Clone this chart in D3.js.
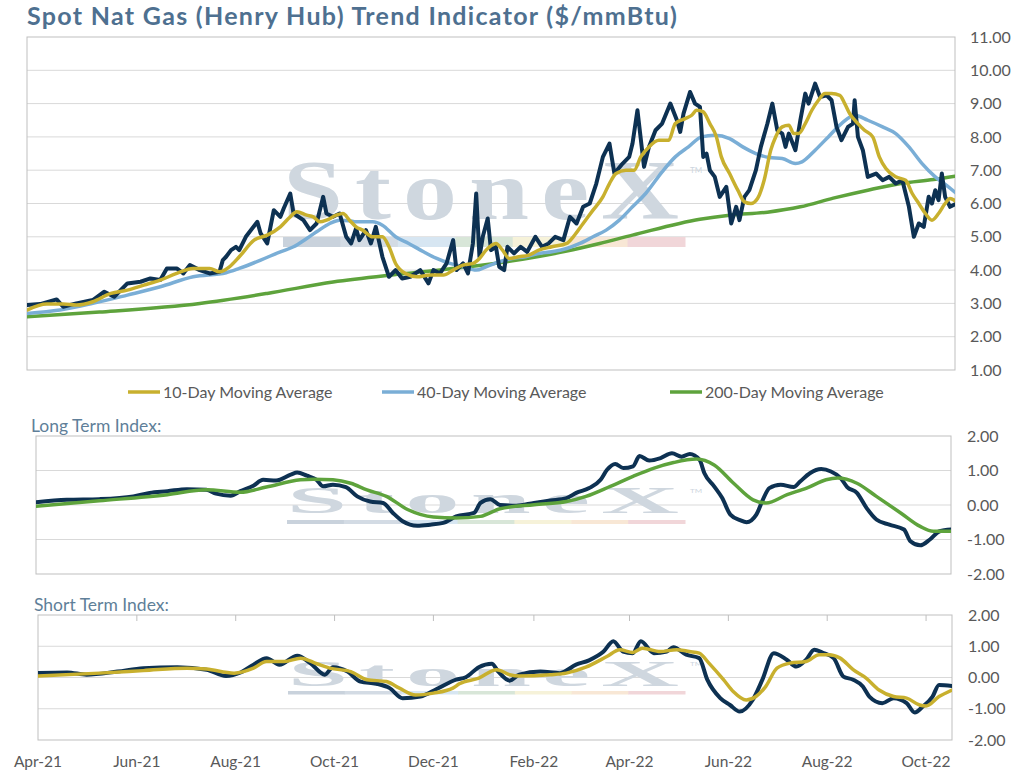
<!DOCTYPE html>
<html>
<head>
<meta charset="utf-8">
<script src="https://cdn.jsdelivr.net/npm/d3@7"></script>
<style>
  body { margin: 0; background: #fff; }
  svg { display: block; font-family: Lato, "Open Sans", sans-serif; }
</style>
</head>
<body>
<div id="chart"></div>
<script>
// Spot Nat Gas (Henry Hub) trend indicator - three stacked panels

const TITLE = 'Spot Nat Gas (Henry Hub) Trend Indicator ($/mmBtu)';
const LEGEND = ['10-Day Moving Average', '40-Day Moving Average', '200-Day Moving Average'];
const MONTH_TICKS = ['2021-04-01','2021-06-01','2021-08-01','2021-10-01','2021-12-01',
    '2022-02-01','2022-04-01','2022-06-01','2022-08-01','2022-10-01'];
const PRICE_TICKS = [1,2,3,4,5,6,7,8,9,10,11];
const INDEX_TICKS = [-2,-1,0,1,2];

// spot price, $/mmBtu
const spot = [
 ['2021-04-01',2.95],['2021-04-09',2.98],['2021-04-19',3.12],['2021-04-23',2.9],['2021-05-01',3.0],
 ['2021-05-11',3.1],['2021-05-18',3.35],['2021-05-24',3.2],['2021-06-01',3.6],['2021-06-09',3.65],
 ['2021-06-15',3.75],['2021-06-21',3.7],['2021-06-25',4.05],['2021-07-01',4.05],['2021-07-05',3.9],
 ['2021-07-09',4.15],['2021-07-15',4.0],['2021-07-21',3.9],['2021-07-27',3.95],['2021-07-29',4.3],
 ['2021-07-31',4.4],['2021-08-03',4.6],['2021-08-06',4.7],['2021-08-08',4.6],['2021-08-12',5.0],
 ['2021-08-19',5.45],['2021-08-21',5.1],['2021-08-25',4.8],['2021-08-29',5.8],['2021-09-02',5.6],
 ['2021-09-04',5.85],['2021-09-08',6.3],['2021-09-10',5.7],['2021-09-16',5.5],['2021-09-20',5.2],
 ['2021-09-24',5.4],['2021-09-28',6.2],['2021-09-30',5.7],['2021-10-04',5.6],['2021-10-08',5.7],
 ['2021-10-12',5.0],['2021-10-15',4.8],['2021-10-18',5.25],['2021-10-20',4.9],['2021-10-24',5.2],
 ['2021-10-27',4.8],['2021-10-30',5.3],['2021-11-03',4.4],['2021-11-07',3.8],['2021-11-11',4.0],
 ['2021-11-15',3.75],['2021-11-20',3.8],['2021-11-26',4.0],['2021-12-01',3.6],['2021-12-04',4.0],
 ['2021-12-08',3.9],['2021-12-12',4.2],['2021-12-16',4.9],['2021-12-18',4.0],['2021-12-22',4.2],
 ['2021-12-25',3.9],['2021-12-28',4.8],['2021-12-30',6.3],['2022-01-01',4.4],['2022-01-03',5.0],
 ['2022-01-06',5.55],['2022-01-08',4.6],['2022-01-11',4.7],['2022-01-13',4.1],['2022-01-16',4.0],
 ['2022-01-18',4.7],['2022-01-22',4.5],['2022-01-26',4.7],['2022-01-30',4.55],['2022-02-04',5.0],
 ['2022-02-08',4.7],['2022-02-12',4.8],['2022-02-16',5.0],['2022-02-21',4.9],['2022-02-25',5.6],
 ['2022-03-01',5.4],['2022-03-05',5.9],['2022-03-09',6.0],['2022-03-13',6.6],['2022-03-17',7.4],
 ['2022-03-21',7.8],['2022-03-24',6.9],['2022-03-29',7.2],['2022-04-02',7.4],['2022-04-04',7.8],
 ['2022-04-07',8.8],['2022-04-11',7.1],['2022-04-14',7.7],['2022-04-18',8.2],['2022-04-22',8.4],
 ['2022-04-27',9.0],['2022-05-01',8.5],['2022-05-03',8.15],['2022-05-05',8.7],['2022-05-09',9.35],
 ['2022-05-12',9.0],['2022-05-15',8.9],['2022-05-17',7.4],['2022-05-19',7.5],['2022-05-21',7.0],
 ['2022-05-24',6.8],['2022-05-27',6.2],['2022-05-31',6.5],['2022-06-03',5.4],['2022-06-06',5.9],
 ['2022-06-08',5.5],['2022-06-11',6.2],['2022-06-14',6.4],['2022-06-18',7.0],['2022-06-21',7.7],
 ['2022-06-25',8.4],['2022-06-28',9.0],['2022-07-01',8.2],['2022-07-04',8.1],['2022-07-06',7.7],
 ['2022-07-08',8.1],['2022-07-12',7.6],['2022-07-15',8.5],['2022-07-18',9.3],['2022-07-20',9.0],
 ['2022-07-24',9.6],['2022-07-27',9.2],['2022-07-31',9.25],['2022-08-03',9.1],['2022-08-06',8.3],
 ['2022-08-09',7.9],['2022-08-13',8.3],['2022-08-16',8.4],['2022-08-17',9.1],['2022-08-19',8.0],
 ['2022-08-22',7.6],['2022-08-25',6.8],['2022-08-30',6.9],['2022-09-03',6.7],['2022-09-07',6.8],
 ['2022-09-11',6.6],['2022-09-15',6.7],['2022-09-19',5.9],['2022-09-22',5.0],['2022-09-25',5.4],
 ['2022-09-28',5.3],['2022-10-01',6.2],['2022-10-03',6.0],['2022-10-05',6.4],['2022-10-07',6.1],
 ['2022-10-09',6.9],['2022-10-11',6.2],['2022-10-14',5.9],['2022-10-18',6.0]
];

const ma10 = [
 ['2021-04-01',2.8],['2021-04-13',2.98],['2021-04-23',2.98],['2021-05-01',2.95],['2021-05-11',3.05],
 ['2021-05-22',3.3],['2021-06-01',3.4],['2021-06-11',3.55],['2021-06-21',3.7],['2021-07-01',3.9],
 ['2021-07-11',4.05],['2021-07-21',4.05],['2021-07-27',3.95],['2021-08-02',4.1],['2021-08-08',4.4],
 ['2021-08-17',4.9],['2021-08-25',5.05],['2021-09-02',5.3],['2021-09-08',5.6],['2021-09-12',5.75],
 ['2021-09-18',5.65],['2021-09-22',5.6],['2021-09-26',5.45],['2021-09-30',5.5],['2021-10-06',5.65],
 ['2021-10-10',5.7],['2021-10-14',5.5],['2021-10-18',5.3],['2021-10-22',5.2],['2021-10-28',5.0],
 ['2021-11-03',5.0],['2021-11-07',4.7],['2021-11-11',4.2],['2021-11-17',3.9],['2021-11-24',3.8],
 ['2021-12-02',3.85],['2021-12-10',3.85],['2021-12-16',4.0],['2021-12-22',4.15],['2021-12-28',4.2],
 ['2022-01-01',4.35],['2022-01-05',4.6],['2022-01-11',4.8],['2022-01-15',4.6],['2022-01-19',4.35],
 ['2022-01-25',4.4],['2022-01-31',4.45],['2022-02-06',4.6],['2022-02-14',4.7],['2022-02-23',4.8],
 ['2022-02-27',5.0],['2022-03-05',5.4],['2022-03-11',5.8],['2022-03-17',6.2],['2022-03-21',6.6],
 ['2022-03-25',6.9],['2022-03-31',7.0],['2022-04-05',7.0],['2022-04-09',7.4],['2022-04-14',7.7],
 ['2022-04-20',7.9],['2022-04-26',7.9],['2022-04-30',8.4],['2022-05-06',8.55],['2022-05-10',8.65],
 ['2022-05-13',8.8],['2022-05-17',8.75],['2022-05-21',8.4],['2022-05-25',8.0],['2022-05-28',7.4],
 ['2022-06-02',6.9],['2022-06-07',6.4],['2022-06-11',6.05],['2022-06-15',6.0],['2022-06-19',6.15],
 ['2022-06-23',6.7],['2022-06-27',7.6],['2022-06-30',8.0],['2022-07-04',8.3],['2022-07-08',8.35],
 ['2022-07-11',8.1],['2022-07-14',8.1],['2022-07-18',8.4],['2022-07-22',8.8],['2022-07-26',9.1],
 ['2022-07-30',9.3],['2022-08-03',9.3],['2022-08-08',9.25],['2022-08-11',9.0],['2022-08-14',8.7],
 ['2022-08-19',8.4],['2022-08-23',8.2],['2022-08-28',8.0],['2022-09-01',7.4],['2022-09-05',7.05],
 ['2022-09-11',6.8],['2022-09-17',6.7],['2022-09-21',6.3],['2022-09-25',6.0],['2022-09-29',5.7],
 ['2022-10-03',5.5],['2022-10-07',5.7],['2022-10-11',6.0],['2022-10-14',6.15],['2022-10-18',6.05]
];

const ma40 = [
 ['2021-04-01',2.7],['2021-04-21',2.8],['2021-05-11',3.0],['2021-06-01',3.25],['2021-06-21',3.5],
 ['2021-07-11',3.8],['2021-07-31',3.92],['2021-08-08',4.05],['2021-08-21',4.3],['2021-09-02',4.55],
 ['2021-09-10',4.7],['2021-09-18',4.95],['2021-09-24',5.15],['2021-10-02',5.4],['2021-10-08',5.5],
 ['2021-10-14',5.48],['2021-10-18',5.45],['2021-10-28',5.45],['2021-11-03',5.35],['2021-11-11',5.0],
 ['2021-11-19',4.8],['2021-11-28',4.55],['2021-12-06',4.35],['2021-12-14',4.2],['2021-12-22',4.1],
 ['2021-12-30',4.0],['2022-01-05',4.1],['2022-01-13',4.25],['2022-01-21',4.35],['2022-01-29',4.4],
 ['2022-02-06',4.5],['2022-02-14',4.55],['2022-02-23',4.65],['2022-03-03',4.8],['2022-03-11',5.0],
 ['2022-03-19',5.2],['2022-03-27',5.5],['2022-04-04',5.9],['2022-04-12',6.3],['2022-04-22',6.95],
 ['2022-04-30',7.4],['2022-05-08',7.7],['2022-05-16',8.0],['2022-05-24',8.05],['2022-06-02',7.95],
 ['2022-06-10',7.7],['2022-06-18',7.5],['2022-06-26',7.38],['2022-07-04',7.35],['2022-07-12',7.2],
 ['2022-07-16',7.25],['2022-07-24',7.6],['2022-08-01',8.0],['2022-08-09',8.4],['2022-08-17',8.65],
 ['2022-08-25',8.5],['2022-09-03',8.3],['2022-09-11',8.1],['2022-09-19',7.7],['2022-09-27',7.2],
 ['2022-10-05',6.8],['2022-10-13',6.5],['2022-10-18',6.3]
];

const ma200 = [
 ['2021-04-01',2.6],['2021-05-15',2.74],['2021-07-15',3.0],['2021-08-25',3.3],['2021-10-04',3.64],
 ['2021-11-14',3.88],['2021-12-24',4.09],['2022-01-20',4.27],['2022-02-23',4.57],['2022-03-15',4.8],
 ['2022-04-04',5.05],['2022-05-15',5.53],['2022-06-02',5.65],['2022-06-25',5.74],['2022-07-15',5.9],
 ['2022-08-04',6.16],['2022-08-25',6.4],['2022-09-14',6.6],['2022-10-04',6.72],['2022-10-17',6.82]
];

// long term index
const longFast = [
 ['2021-04-01',0.08],['2021-04-20',0.15],['2021-05-10',0.17],['2021-05-31',0.25],['2021-06-10',0.35],
 ['2021-06-21',0.4],['2021-07-03',0.46],['2021-07-15',0.44],['2021-07-21',0.33],['2021-07-30',0.27],
 ['2021-08-05',0.4],['2021-08-13',0.56],['2021-08-19',0.73],['2021-08-27',0.71],['2021-09-05',0.88],
 ['2021-09-09',0.94],['2021-09-15',0.85],['2021-09-21',0.73],['2021-09-25',0.54],['2021-10-01',0.59],
 ['2021-10-09',0.52],['2021-10-16',0.25],['2021-10-24',0.1],['2021-11-01',0.06],['2021-11-07',-0.23],
 ['2021-11-13',-0.47],['2021-11-22',-0.6],['2021-11-30',-0.57],['2021-12-08',-0.52],['2021-12-16',-0.33],
 ['2021-12-27',-0.23],['2021-12-31',0.06],['2022-01-06',0.17],['2022-01-12',0.0],['2022-01-22',-0.02],
 ['2022-02-02',0.06],['2022-02-12',0.13],['2022-02-22',0.2],['2022-02-28',0.35],['2022-03-08',0.49],
 ['2022-03-15',0.73],['2022-03-19',1.02],['2022-03-24',1.19],['2022-03-29',1.07],['2022-04-04',1.12],
 ['2022-04-08',1.42],['2022-04-14',1.29],['2022-04-21',1.36],['2022-04-28',1.5],['2022-05-04',1.4],
 ['2022-05-09',1.48],['2022-05-15',1.31],['2022-05-18',0.92],['2022-05-24',0.54],['2022-05-29',0.2],
 ['2022-06-03',-0.28],['2022-06-09',-0.44],['2022-06-13',-0.5],['2022-06-19',-0.28],['2022-06-23',0.15],
 ['2022-06-27',0.49],['2022-07-04',0.59],['2022-07-12',0.52],['2022-07-16',0.68],['2022-07-22',0.92],
 ['2022-07-29',1.04],['2022-08-04',0.97],['2022-08-10',0.78],['2022-08-14',0.52],['2022-08-20',0.35],
 ['2022-08-26',-0.09],['2022-09-01',-0.42],['2022-09-09',-0.57],['2022-09-18',-0.71],['2022-09-22',-1.05],
 ['2022-09-28',-1.17],['2022-10-04',-1.0],['2022-10-10',-0.76],['2022-10-17',-0.71]
];

const longSlow = [
 ['2021-04-01',-0.04],['2021-05-10',0.12],['2021-06-21',0.3],['2021-07-15',0.44],['2021-08-05',0.37],
 ['2021-08-21',0.52],['2021-09-11',0.73],['2021-09-19',0.75],['2021-10-01',0.73],['2021-10-12',0.63],
 ['2021-10-22',0.44],['2021-11-03',0.25],['2021-11-16',-0.13],['2021-12-02',-0.35],['2021-12-16',-0.38],
 ['2021-12-31',-0.33],['2022-01-12',-0.11],['2022-02-02',0.01],['2022-02-22',0.1],['2022-03-06',0.25],
 ['2022-03-21',0.54],['2022-04-04',0.83],['2022-04-17',1.07],['2022-04-29',1.23],['2022-05-13',1.33],
 ['2022-05-24',1.16],['2022-06-05',0.63],['2022-06-17',0.15],['2022-06-25',0.06],['2022-07-08',0.3],
 ['2022-07-20',0.49],['2022-08-01',0.73],['2022-08-08',0.78],['2022-08-20',0.63],['2022-09-01',0.25],
 ['2022-09-16',-0.23],['2022-09-28',-0.62],['2022-10-06',-0.76],['2022-10-17',-0.76]
];

// short term index
const shortFast = [
 ['2021-04-01',0.14],['2021-04-19',0.16],['2021-05-01',0.09],['2021-05-20',0.19],['2021-06-05',0.3],
 ['2021-06-26',0.33],['2021-07-14',0.25],['2021-07-26',0.05],['2021-08-04',0.16],['2021-08-12',0.41],
 ['2021-08-20',0.62],['2021-08-28',0.41],['2021-09-08',0.7],['2021-09-16',0.46],['2021-09-25',0.09],
 ['2021-09-30',0.33],['2021-10-09',0.19],['2021-10-17',-0.13],['2021-10-27',-0.2],['2021-11-04',-0.34],
 ['2021-11-12',-0.66],['2021-11-23',-0.61],['2021-12-03',-0.37],['2021-12-15',-0.07],['2021-12-21',0.01],
 ['2021-12-29',0.33],['2022-01-06',0.44],['2022-01-10',0.19],['2022-01-17',-0.1],['2022-01-23',0.09],
 ['2022-02-05',0.19],['2022-02-17',0.14],['2022-02-27',0.41],['2022-03-07',0.55],['2022-03-16',0.83],
 ['2022-03-22',1.16],['2022-03-28',0.83],['2022-04-03',0.78],['2022-04-08',1.16],['2022-04-16',0.78],
 ['2022-04-24',0.83],['2022-04-28',0.97],['2022-05-06',0.73],['2022-05-14',0.62],['2022-05-19',-0.07],
 ['2022-05-27',-0.66],['2022-06-02',-0.88],['2022-06-08',-1.09],['2022-06-16',-0.72],['2022-06-22',-0.07],
 ['2022-06-29',0.78],['2022-07-07',0.57],['2022-07-13',0.35],['2022-07-19',0.57],['2022-07-24',0.89],
 ['2022-07-29',0.8],['2022-08-05',0.62],['2022-08-11',0.03],['2022-08-17',-0.07],['2022-08-23',-0.29],
 ['2022-08-27',-0.61],['2022-09-04',-0.82],['2022-09-11',-0.66],['2022-09-19',-0.82],['2022-09-24',-1.12],
 ['2022-09-29',-0.93],['2022-10-05',-0.61],['2022-10-09',-0.24],['2022-10-17',-0.27]
];

const shortSlow = [
 ['2021-04-01',0.05],['2021-05-09',0.14],['2021-06-05',0.22],['2021-07-02',0.3],['2021-07-14',0.27],
 ['2021-07-31',0.14],['2021-08-12',0.3],['2021-08-20',0.51],['2021-08-31',0.51],['2021-09-10',0.62],
 ['2021-09-20',0.44],['2021-09-28',0.3],['2021-10-11',0.19],['2021-10-21',-0.07],['2021-11-02',-0.13],
 ['2021-11-10',-0.34],['2021-11-20',-0.56],['2021-12-01',-0.5],['2021-12-13',-0.34],['2021-12-17',-0.2],
 ['2021-12-29',-0.02],['2022-01-09',0.25],['2022-01-17',0.09],['2022-01-23',0.05],['2022-02-11',0.09],
 ['2022-02-21',0.14],['2022-03-05',0.33],['2022-03-18',0.67],['2022-03-26',0.89],['2022-04-03',0.8],
 ['2022-04-09',0.94],['2022-04-20',0.83],['2022-04-30',0.89],['2022-05-08',0.83],['2022-05-14',0.78],
 ['2022-05-20',0.46],['2022-05-29',-0.07],['2022-06-04',-0.45],['2022-06-12',-0.72],['2022-06-18',-0.61],
 ['2022-06-24',-0.29],['2022-07-01',0.3],['2022-07-09',0.46],['2022-07-19',0.51],['2022-07-27',0.73],
 ['2022-08-02',0.73],['2022-08-09',0.62],['2022-08-17',0.25],['2022-08-25',-0.02],['2022-09-02',-0.4],
 ['2022-09-11',-0.61],['2022-09-19',-0.66],['2022-09-27',-0.88],['2022-10-01',-0.91],['2022-10-09',-0.61],
 ['2022-10-17',-0.4]
];

const NAVY = '#0d3152', GOLD = '#c8b02e', BLUE = '#7aaed6', GREEN = '#5ea33c';
const AXIS_TEXT = '#595959', GRID = '#d9d9d9', BORDER = '#bfbfbf';
const WM_BAR = ['#c9d2dc','#d3dbe4','#d7e6f2','#d8e6d8','#f6f2d9','#f8e7d5','#f1d6d9'];

const W = 1028, H = 778;
const parse = d3.timeParse('%Y-%m-%d');
const dateDomain = [parse('2021-04-01'), parse('2022-10-17')];
const toPts = arr => arr.map(([d, v]) => ({ date: parse(d), v }));

const svg = d3.select('#chart').append('svg')
    .attr('width', W).attr('height', H);

svg.append('text')
    .attr('x', 27).attr('y', 25)
    .attr('fill', '#4e7090').attr('font-size', '25px').attr('font-weight', 700)
    .attr('textLength', 650).attr('lengthAdjust', 'spacing')
    .text(TITLE);

let clipId = 0;

function drawPanel(cfg) {
    const { left, right, top, bottom } = cfg;
    const x = d3.scaleTime().domain(dateDomain).range([left, right]);
    const y = d3.scaleLinear().domain(cfg.yDomain).range([bottom, top]);
    const g = svg.append('g');

    // gridlines
    g.append('g').selectAll('line')
        .data(cfg.yTicks.slice(1, -1))
        .join('line')
        .attr('x1', left).attr('x2', right)
        .attr('y1', d => y(d)).attr('y2', d => y(d))
        .attr('stroke', GRID).attr('stroke-width', 1);

    // watermark, squashed vertically in the small panels
    const wm = cfg.wm;
    const k = (wm.base - wm.capTop) / 55;
    const sx = 1.3;
    const wmg = g.append('g');
    wmg.append('text')
        .attr('transform', `translate(${wm.x0},${wm.base}) scale(${sx},${k})`)
        .attr('font-family', '"Liberation Serif", "DejaVu Serif", serif')
        .attr('font-size', '83px').attr('font-weight', 700).attr('fill', '#cfd7df')
        .attr('textLength', (wm.x1 - wm.x0 - 6) / sx).attr('lengthAdjust', 'spacing')
        .text('StoneX');
    wmg.append('text')
        .attr('transform', `translate(${wm.x1 + 5},${wm.capTop + 10 * k}) scale(1,${Math.max(k, 0.6)})`)
        .attr('font-size', '8px').attr('fill', '#cdd5de')
        .text('TM');
    const segW = (wm.x1 - wm.x0) / WM_BAR.length;
    wmg.selectAll('rect').data(WM_BAR).join('rect')
        .attr('x', (d, i) => wm.x0 + i * segW).attr('y', wm.barTop)
        .attr('width', segW + 0.5).attr('height', wm.barH)
        .attr('fill', d => d);

    // border
    g.append('rect')
        .attr('x', left).attr('y', top)
        .attr('width', right - left).attr('height', bottom - top)
        .attr('fill', 'none').attr('stroke', BORDER).attr('stroke-width', 1);

    // right axis labels
    const yAxis = d3.axisRight(y).tickValues(cfg.yTicks)
        .tickFormat(d => d.toFixed(2)).tickSize(0).tickPadding(cfg.labelPad);
    const ax = g.append('g').attr('transform', `translate(${right},0)`).call(yAxis);
    ax.select('.domain').remove();
    ax.selectAll('text').attr('fill', AXIS_TEXT).attr('font-size', '16px')
        .attr('font-family', 'Lato, sans-serif');

    // series
    const cid = 'clip' + (clipId++);
    svg.append('clipPath').attr('id', cid).append('rect')
        .attr('x', left).attr('y', top - 4).attr('width', right - left).attr('height', bottom - top + 8);
    const lg = g.append('g').attr('clip-path', `url(#${cid})`);
    for (const s of cfg.series) {
        const line = d3.line().x(d => x(d.date)).y(d => y(d.v))
            .curve(s.smooth ? d3.curveMonotoneX : d3.curveLinear);
        lg.append('path').datum(toPts(s.data))
            .attr('d', line)
            .attr('fill', 'none').attr('stroke', s.color).attr('stroke-width', s.width)
            .attr('stroke-linejoin', 'round').attr('stroke-linecap', 'round');
    }
    return { x, y, g };
}

// top panel: price and moving averages
drawPanel({
    left: 27, right: 955, top: 37, bottom: 370,
    yDomain: [1, 11], yTicks: PRICE_TICKS, labelPad: 15,
    wm: { x0: 283, x1: 685, capTop: 163, base: 219, barTop: 237, barH: 10 },
    series: [
        { data: ma200, color: GREEN, width: 3.5, smooth: true },
        { data: ma40, color: BLUE, width: 3.5, smooth: true },
        { data: spot, color: NAVY, width: 4 },
        { data: ma10, color: GOLD, width: 3.5, smooth: true }
    ]
});

// legend
const legendX = [128, 382, 670];
const legendColors = [GOLD, BLUE, GREEN];
const leg = svg.append('g').attr('transform', 'translate(0,392)');
LEGEND.forEach((name, i) => {
    leg.append('line')
        .attr('x1', legendX[i]).attr('x2', legendX[i] + 32)
        .attr('y1', 0).attr('y2', 0)
        .attr('stroke', legendColors[i]).attr('stroke-width', 3.5);
    leg.append('text')
        .attr('x', legendX[i] + 35).attr('y', 0).attr('dy', '0.35em')
        .attr('fill', AXIS_TEXT).attr('font-size', '16px')
        .text(name);
});

// long term index
svg.append('text').attr('x', 31).attr('y', 432)
    .attr('fill', '#5f7f99').attr('font-size', '17.5px').text('Long Term Index:');
drawPanel({
    left: 36, right: 951, top: 436, bottom: 574,
    yDomain: [-2, 2], yTicks: INDEX_TICKS, labelPad: 16,
    wm: { x0: 287, x1: 685, capTop: 488, base: 513, barTop: 520, barH: 4 },
    series: [
        { data: longFast, color: NAVY, width: 4, smooth: true },
        { data: longSlow, color: GREEN, width: 3.5, smooth: true }
    ]
});

// short term index
svg.append('text').attr('x', 34).attr('y', 611)
    .attr('fill', '#5f7f99').attr('font-size', '17.5px').text('Short Term Index:');
const sp = drawPanel({
    left: 38, right: 952, top: 615, bottom: 740,
    yDomain: [-2, 2], yTicks: INDEX_TICKS, labelPad: 16,
    wm: { x0: 288, x1: 685, capTop: 662, base: 686, barTop: 691, barH: 3.5 },
    series: [
        { data: shortFast, color: NAVY, width: 4, smooth: true },
        { data: shortSlow, color: GOLD, width: 3.5, smooth: true }
    ]
});

// date ticks hang from the top edge of the short panel, labels below it
const months = MONTH_TICKS.map(parse);
sp.g.append('g').selectAll('line').data(months.slice(1)).join('line')
    .attr('x1', d => sp.x(d)).attr('x2', d => sp.x(d))
    .attr('y1', 615).attr('y2', 621)
    .attr('stroke', BORDER);
sp.g.append('g').selectAll('text').data(months).join('text')
    .attr('x', d => sp.x(d)).attr('y', 762).attr('dy', '0.35em')
    .attr('text-anchor', 'middle').attr('fill', AXIS_TEXT).attr('font-size', '15.5px')
    .text(d3.timeFormat('%b-%y'));
</script>
</body>
</html>
